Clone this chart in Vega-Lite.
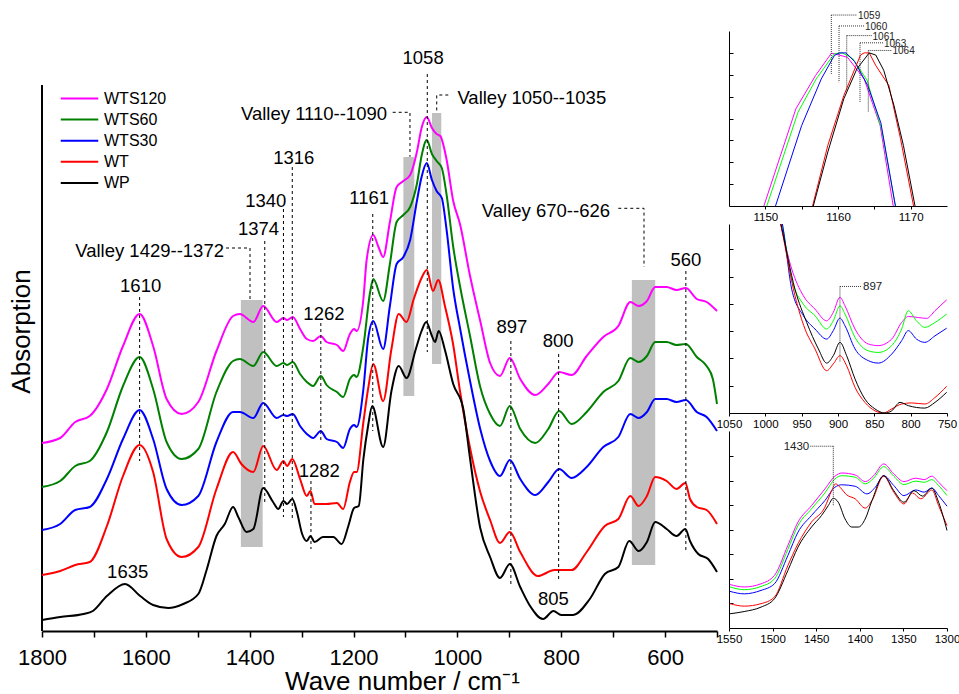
{
"$schema": "https://vega.github.io/schema/vega-lite/v6.json",
"padding": {"left": 8, "top": 11, "right": 0, "bottom": 0},
"background": "white",
"config": {"font": "Liberation Sans", "view": {"stroke": null}, "axis": {"grid": false, "domainColor": "black", "tickColor": "black", "labelColor": "black", "titleColor": "black", "titleFontWeight": "normal", "labelFlush": false, "labelOverlap": false}},
"datasets": {
"m": [
{"s":"WTS120","wn":1800,"a":188},{"s":"WTS120","wn":1765,"a":193},{"s":"WTS120","wn":1736,"a":209},{"s":"WTS120","wn":1708,"a":215},{"s":"WTS120","wn":1675,"a":242},{"s":"WTS120","wn":1644,"a":285},{"s":"WTS120","wn":1612,"a":317},{"s":"WTS120","wn":1586,"a":285},{"s":"WTS120","wn":1560,"a":232},{"s":"WTS120","wn":1531,"a":217},{"s":"WTS120","wn":1499,"a":229},{"s":"WTS120","wn":1464,"a":280},{"s":"WTS120","wn":1432,"a":315},{"s":"WTS120","wn":1419,"a":317},{"s":"WTS120","wn":1393,"a":309},{"s":"WTS120","wn":1374,"a":325},{"s":"WTS120","wn":1348,"a":309},{"s":"WTS120","wn":1335,"a":313},{"s":"WTS120","wn":1328,"a":311},{"s":"WTS120","wn":1317,"a":314},{"s":"WTS120","wn":1303,"a":302},{"s":"WTS120","wn":1290,"a":292},{"s":"WTS120","wn":1278,"a":290},{"s":"WTS120","wn":1263,"a":295},{"s":"WTS120","wn":1252,"a":289},{"s":"WTS120","wn":1232,"a":286},{"s":"WTS120","wn":1220,"a":280},{"s":"WTS120","wn":1207,"a":297},{"s":"WTS120","wn":1199,"a":302},{"s":"WTS120","wn":1194,"a":300},{"s":"WTS120","wn":1181,"a":332},{"s":"WTS120","wn":1175,"a":370},{"s":"WTS120","wn":1162,"a":396},{"s":"WTS120","wn":1152,"a":384},{"s":"WTS120","wn":1143,"a":374},{"s":"WTS120","wn":1130,"a":409},{"s":"WTS120","wn":1117,"a":444},{"s":"WTS120","wn":1104,"a":450},{"s":"WTS120","wn":1091,"a":456},{"s":"WTS120","wn":1078,"a":479},{"s":"WTS120","wn":1069,"a":503},{"s":"WTS120","wn":1059,"a":514},{"s":"WTS120","wn":1049,"a":503},{"s":"WTS120","wn":1040,"a":497},{"s":"WTS120","wn":1033,"a":495},{"s":"WTS120","wn":1021,"a":472},{"s":"WTS120","wn":1008,"a":430},{"s":"WTS120","wn":995,"a":407},{"s":"WTS120","wn":976,"a":356},{"s":"WTS120","wn":956,"a":310},{"s":"WTS120","wn":937,"a":268},{"s":"WTS120","wn":918,"a":255},{"s":"WTS120","wn":899,"a":273},{"s":"WTS120","wn":879,"a":252},{"s":"WTS120","wn":850,"a":236},{"s":"WTS120","wn":825,"a":247},{"s":"WTS120","wn":804,"a":259},{"s":"WTS120","wn":780,"a":256},{"s":"WTS120","wn":751,"a":275},{"s":"WTS120","wn":719,"a":294},{"s":"WTS120","wn":690,"a":305},{"s":"WTS120","wn":667,"a":329},{"s":"WTS120","wn":651,"a":325},{"s":"WTS120","wn":635,"a":330},{"s":"WTS120","wn":619,"a":344},{"s":"WTS120","wn":597,"a":344},{"s":"WTS120","wn":578,"a":341},{"s":"WTS120","wn":560,"a":343},{"s":"WTS120","wn":539,"a":332},{"s":"WTS120","wn":520,"a":329},{"s":"WTS120","wn":500,"a":320},
{"s":"WTS60","wn":1800,"a":144},{"s":"WTS60","wn":1765,"a":150},{"s":"WTS60","wn":1736,"a":165},{"s":"WTS60","wn":1708,"a":170},{"s":"WTS60","wn":1675,"a":199},{"s":"WTS60","wn":1644,"a":245},{"s":"WTS60","wn":1612,"a":274},{"s":"WTS60","wn":1586,"a":242},{"s":"WTS60","wn":1560,"a":189},{"s":"WTS60","wn":1531,"a":172},{"s":"WTS60","wn":1499,"a":182},{"s":"WTS60","wn":1464,"a":239},{"s":"WTS60","wn":1432,"a":270},{"s":"WTS60","wn":1419,"a":272},{"s":"WTS60","wn":1393,"a":265},{"s":"WTS60","wn":1374,"a":279},{"s":"WTS60","wn":1348,"a":265},{"s":"WTS60","wn":1335,"a":268},{"s":"WTS60","wn":1328,"a":266},{"s":"WTS60","wn":1317,"a":269},{"s":"WTS60","wn":1303,"a":257},{"s":"WTS60","wn":1290,"a":249},{"s":"WTS60","wn":1278,"a":245},{"s":"WTS60","wn":1263,"a":255},{"s":"WTS60","wn":1252,"a":246},{"s":"WTS60","wn":1232,"a":239},{"s":"WTS60","wn":1220,"a":234},{"s":"WTS60","wn":1207,"a":252},{"s":"WTS60","wn":1199,"a":256},{"s":"WTS60","wn":1194,"a":254},{"s":"WTS60","wn":1181,"a":285},{"s":"WTS60","wn":1168,"a":339},{"s":"WTS60","wn":1162,"a":352},{"s":"WTS60","wn":1143,"a":330},{"s":"WTS60","wn":1130,"a":367},{"s":"WTS60","wn":1117,"a":409},{"s":"WTS60","wn":1104,"a":416},{"s":"WTS60","wn":1091,"a":424},{"s":"WTS60","wn":1078,"a":447},{"s":"WTS60","wn":1069,"a":475},{"s":"WTS60","wn":1059,"a":491},{"s":"WTS60","wn":1049,"a":477},{"s":"WTS60","wn":1040,"a":470},{"s":"WTS60","wn":1030,"a":463},{"s":"WTS60","wn":1021,"a":437},{"s":"WTS60","wn":1008,"a":384},{"s":"WTS60","wn":995,"a":345},{"s":"WTS60","wn":976,"a":296},{"s":"WTS60","wn":956,"a":244},{"s":"WTS60","wn":937,"a":217},{"s":"WTS60","wn":918,"a":205},{"s":"WTS60","wn":899,"a":225},{"s":"WTS60","wn":879,"a":202},{"s":"WTS60","wn":850,"a":188},{"s":"WTS60","wn":825,"a":202},{"s":"WTS60","wn":804,"a":220},{"s":"WTS60","wn":780,"a":207},{"s":"WTS60","wn":751,"a":219},{"s":"WTS60","wn":719,"a":239},{"s":"WTS60","wn":690,"a":250},{"s":"WTS60","wn":667,"a":273},{"s":"WTS60","wn":651,"a":269},{"s":"WTS60","wn":635,"a":275},{"s":"WTS60","wn":619,"a":289},{"s":"WTS60","wn":597,"a":289},{"s":"WTS60","wn":578,"a":286},{"s":"WTS60","wn":560,"a":287},{"s":"WTS60","wn":539,"a":274},{"s":"WTS60","wn":520,"a":265},{"s":"WTS60","wn":508,"a":252},{"s":"WTS60","wn":500,"a":227},
{"s":"WTS30","wn":1800,"a":101},{"s":"WTS30","wn":1765,"a":107},{"s":"WTS30","wn":1736,"a":121},{"s":"WTS30","wn":1708,"a":124},{"s":"WTS30","wn":1675,"a":152},{"s":"WTS30","wn":1644,"a":192},{"s":"WTS30","wn":1612,"a":221},{"s":"WTS30","wn":1586,"a":192},{"s":"WTS30","wn":1560,"a":142},{"s":"WTS30","wn":1531,"a":126},{"s":"WTS30","wn":1499,"a":135},{"s":"WTS30","wn":1464,"a":189},{"s":"WTS30","wn":1432,"a":219},{"s":"WTS30","wn":1419,"a":219},{"s":"WTS30","wn":1393,"a":213},{"s":"WTS30","wn":1374,"a":228},{"s":"WTS30","wn":1348,"a":213},{"s":"WTS30","wn":1335,"a":216},{"s":"WTS30","wn":1328,"a":215},{"s":"WTS30","wn":1317,"a":217},{"s":"WTS30","wn":1303,"a":205},{"s":"WTS30","wn":1290,"a":197},{"s":"WTS30","wn":1278,"a":193},{"s":"WTS30","wn":1263,"a":200},{"s":"WTS30","wn":1252,"a":192},{"s":"WTS30","wn":1232,"a":189},{"s":"WTS30","wn":1220,"a":183},{"s":"WTS30","wn":1207,"a":202},{"s":"WTS30","wn":1199,"a":206},{"s":"WTS30","wn":1194,"a":204},{"s":"WTS30","wn":1181,"a":242},{"s":"WTS30","wn":1172,"a":292},{"s":"WTS30","wn":1162,"a":310},{"s":"WTS30","wn":1143,"a":282},{"s":"WTS30","wn":1130,"a":325},{"s":"WTS30","wn":1117,"a":367},{"s":"WTS30","wn":1104,"a":374},{"s":"WTS30","wn":1091,"a":391},{"s":"WTS30","wn":1078,"a":430},{"s":"WTS30","wn":1069,"a":454},{"s":"WTS30","wn":1059,"a":468},{"s":"WTS30","wn":1049,"a":451},{"s":"WTS30","wn":1040,"a":440},{"s":"WTS30","wn":1030,"a":433},{"s":"WTS30","wn":1021,"a":402},{"s":"WTS30","wn":1008,"a":342},{"s":"WTS30","wn":995,"a":303},{"s":"WTS30","wn":976,"a":251},{"s":"WTS30","wn":956,"a":202},{"s":"WTS30","wn":937,"a":170},{"s":"WTS30","wn":918,"a":155},{"s":"WTS30","wn":899,"a":171},{"s":"WTS30","wn":879,"a":152},{"s":"WTS30","wn":850,"a":136},{"s":"WTS30","wn":825,"a":149},{"s":"WTS30","wn":804,"a":162},{"s":"WTS30","wn":780,"a":153},{"s":"WTS30","wn":751,"a":164},{"s":"WTS30","wn":719,"a":184},{"s":"WTS30","wn":690,"a":194},{"s":"WTS30","wn":667,"a":217},{"s":"WTS30","wn":651,"a":213},{"s":"WTS30","wn":635,"a":219},{"s":"WTS30","wn":619,"a":232},{"s":"WTS30","wn":597,"a":232},{"s":"WTS30","wn":578,"a":229},{"s":"WTS30","wn":560,"a":231},{"s":"WTS30","wn":539,"a":219},{"s":"WTS30","wn":520,"a":214},{"s":"WTS30","wn":500,"a":200},
{"s":"WT","wn":1800,"a":56},{"s":"WT","wn":1765,"a":60},{"s":"WT","wn":1736,"a":66},{"s":"WT","wn":1708,"a":69},{"s":"WT","wn":1675,"a":105},{"s":"WT","wn":1644,"a":155},{"s":"WT","wn":1612,"a":186},{"s":"WT","wn":1586,"a":159},{"s":"WT","wn":1560,"a":92},{"s":"WT","wn":1531,"a":74},{"s":"WT","wn":1499,"a":84},{"s":"WT","wn":1464,"a":142},{"s":"WT","wn":1432,"a":179},{"s":"WT","wn":1416,"a":167},{"s":"WT","wn":1393,"a":159},{"s":"WT","wn":1374,"a":185},{"s":"WT","wn":1348,"a":161},{"s":"WT","wn":1335,"a":170},{"s":"WT","wn":1328,"a":165},{"s":"WT","wn":1318,"a":172},{"s":"WT","wn":1303,"a":152},{"s":"WT","wn":1290,"a":135},{"s":"WT","wn":1283,"a":140},{"s":"WT","wn":1275,"a":127},{"s":"WT","wn":1252,"a":127},{"s":"WT","wn":1232,"a":128},{"s":"WT","wn":1220,"a":122},{"s":"WT","wn":1207,"a":149},{"s":"WT","wn":1199,"a":159},{"s":"WT","wn":1194,"a":159},{"s":"WT","wn":1181,"a":209},{"s":"WT","wn":1172,"a":242},{"s":"WT","wn":1162,"a":267},{"s":"WT","wn":1143,"a":230},{"s":"WT","wn":1127,"a":282},{"s":"WT","wn":1113,"a":317},{"s":"WT","wn":1098,"a":309},{"s":"WT","wn":1084,"a":332},{"s":"WT","wn":1069,"a":353},{"s":"WT","wn":1059,"a":361},{"s":"WT","wn":1047,"a":340},{"s":"WT","wn":1037,"a":351},{"s":"WT","wn":1024,"a":325},{"s":"WT","wn":1008,"a":286},{"s":"WT","wn":995,"a":240},{"s":"WT","wn":976,"a":184},{"s":"WT","wn":956,"a":139},{"s":"WT","wn":937,"a":111},{"s":"WT","wn":918,"a":88},{"s":"WT","wn":899,"a":99},{"s":"WT","wn":879,"a":79},{"s":"WT","wn":845,"a":55},{"s":"WT","wn":813,"a":61},{"s":"WT","wn":780,"a":61},{"s":"WT","wn":751,"a":79},{"s":"WT","wn":716,"a":105},{"s":"WT","wn":690,"a":112},{"s":"WT","wn":667,"a":135},{"s":"WT","wn":651,"a":125},{"s":"WT","wn":635,"a":135},{"s":"WT","wn":619,"a":154},{"s":"WT","wn":597,"a":150},{"s":"WT","wn":578,"a":142},{"s":"WT","wn":561,"a":148},{"s":"WT","wn":552,"a":132},{"s":"WT","wn":539,"a":124},{"s":"WT","wn":520,"a":121},{"s":"WT","wn":500,"a":107},
{"s":"WP","wn":1800,"a":11},{"s":"WP","wn":1765,"a":14},{"s":"WP","wn":1720,"a":17},{"s":"WP","wn":1702,"a":20},{"s":"WP","wn":1675,"a":35},{"s":"WP","wn":1640,"a":47},{"s":"WP","wn":1611,"a":35},{"s":"WP","wn":1586,"a":26},{"s":"WP","wn":1557,"a":23},{"s":"WP","wn":1528,"a":27},{"s":"WP","wn":1499,"a":37},{"s":"WP","wn":1483,"a":61},{"s":"WP","wn":1464,"a":95},{"s":"WP","wn":1448,"a":107},{"s":"WP","wn":1432,"a":124},{"s":"WP","wn":1422,"a":114},{"s":"WP","wn":1406,"a":99},{"s":"WP","wn":1393,"a":102},{"s":"WP","wn":1374,"a":143},{"s":"WP","wn":1355,"a":129},{"s":"WP","wn":1345,"a":122},{"s":"WP","wn":1335,"a":130},{"s":"WP","wn":1328,"a":127},{"s":"WP","wn":1318,"a":132},{"s":"WP","wn":1309,"a":119},{"s":"WP","wn":1299,"a":97},{"s":"WP","wn":1290,"a":90},{"s":"WP","wn":1283,"a":95},{"s":"WP","wn":1275,"a":89},{"s":"WP","wn":1259,"a":94},{"s":"WP","wn":1239,"a":94},{"s":"WP","wn":1223,"a":87},{"s":"WP","wn":1210,"a":105},{"s":"WP","wn":1199,"a":123},{"s":"WP","wn":1190,"a":125},{"s":"WP","wn":1181,"a":172},{"s":"WP","wn":1172,"a":205},{"s":"WP","wn":1164,"a":225},{"s":"WP","wn":1143,"a":184},{"s":"WP","wn":1127,"a":240},{"s":"WP","wn":1113,"a":265},{"s":"WP","wn":1098,"a":253},{"s":"WP","wn":1080,"a":282},{"s":"WP","wn":1069,"a":300},{"s":"WP","wn":1060,"a":309},{"s":"WP","wn":1049,"a":295},{"s":"WP","wn":1043,"a":289},{"s":"WP","wn":1036,"a":300},{"s":"WP","wn":1024,"a":281},{"s":"WP","wn":1008,"a":247},{"s":"WP","wn":989,"a":223},{"s":"WP","wn":976,"a":174},{"s":"WP","wn":956,"a":103},{"s":"WP","wn":937,"a":74},{"s":"WP","wn":918,"a":53},{"s":"WP","wn":899,"a":67},{"s":"WP","wn":879,"a":44},{"s":"WP","wn":860,"a":25},{"s":"WP","wn":835,"a":12},{"s":"WP","wn":815,"a":20},{"s":"WP","wn":800,"a":16},{"s":"WP","wn":777,"a":16},{"s":"WP","wn":745,"a":32},{"s":"WP","wn":716,"a":57},{"s":"WP","wn":690,"a":64},{"s":"WP","wn":669,"a":90},{"s":"WP","wn":651,"a":80},{"s":"WP","wn":635,"a":89},{"s":"WP","wn":619,"a":109},{"s":"WP","wn":597,"a":102},{"s":"WP","wn":578,"a":95},{"s":"WP","wn":561,"a":102},{"s":"WP","wn":552,"a":90},{"s":"WP","wn":536,"a":77},{"s":"WP","wn":517,"a":72},{"s":"WP","wn":500,"a":59}
],
"bars": [{"wn":1417,"wn2":1375,"a":84,"a2":331},{"wn":1104,"wn2":1083,"a":235,"a2":474},{"wn":1049,"wn2":1031,"a":267,"a2":518},{"wn":664,"wn2":619,"a":66,"a2":351}],
"yax": [{"wn":1800,"a":0,"a2":546}],
"vlines": [{"wn":1612,"a":334,"a2":170},{"wn":1371,"a":390,"a2":129},{"wn":1335,"a":422,"a2":114},{"wn":1318,"a":464,"a2":112},{"wn":1263,"a":308,"a2":190},{"wn":1282,"a":150,"a2":82},{"wn":1163,"a":417,"a2":200},{"wn":1058,"a":557,"a2":279},{"wn":897,"a":290,"a2":44},{"wn":805,"a":277,"a2":49},{"wn":560,"a":360,"a2":80}],
"paths": [{"id":"v1","o":1,"wn":1445.6,"a":383},{"id":"v1","o":2,"wn":1399.4,"a":383},{"id":"v1","o":3,"wn":1399.4,"a":331},{"id":"v2","o":1,"wn":1124.6,"a":518.7},{"id":"v2","o":2,"wn":1091.3,"a":518.7},{"id":"v2","o":3,"wn":1091.3,"a":474.3},{"id":"v3","o":1,"wn":1017.5,"a":536},{"id":"v3","o":2,"wn":1039.8,"a":536},{"id":"v3","o":3,"wn":1039.8,"a":518},{"id":"v4","o":1,"wn":690.1,"a":422.7},{"id":"v4","o":2,"wn":640.6,"a":422.7},{"id":"v4","o":3,"wn":640.6,"a":364}],
"lc": [{"t":"1610","wn":1610,"a":345},{"t":"1374","wn":1383,"a":402},{"t":"1340","wn":1369,"a":430},{"t":"1316","wn":1315,"a":473},{"t":"1262","wn":1257,"a":317},{"t":"1282","wn":1266,"a":160},{"t":"1161","wn":1170,"a":433},{"t":"1058","wn":1066,"a":573},{"t":"897","wn":895,"a":304},{"t":"800","wn":806,"a":290},{"t":"805","wn":815,"a":32},{"t":"560","wn":560,"a":371},{"t":"1635","wn":1635,"a":59}],
"lr": [{"t":"Valley 1429--1372","wn":1449.5,"a":380},{"t":"Valley 1110--1090","wn":1135.5,"a":517},{"t":"Valley 670--626","wn":706,"a":420}],
"ll": [{"t":"Valley 1050--1035","wn":1000,"a":533}],
"p1": [
{"s":"WTS120","x":1149.8,"v":0},{"s":"WTS120","x":1154.2,"v":4.44},{"s":"WTS120","x":1156.9,"v":5.96},{"s":"WTS120","x":1159.1,"v":6.99},{"s":"WTS120","x":1161.3,"v":6.8},{"s":"WTS120","x":1163.6,"v":5.81},{"s":"WTS120","x":1165.8,"v":3.68},{"s":"WTS120","x":1167.6,"v":0},
{"s":"WTS60","x":1150.2,"v":0},{"s":"WTS60","x":1154.5,"v":4.29},{"s":"WTS60","x":1157,"v":5.81},{"s":"WTS60","x":1159.5,"v":6.96},{"s":"WTS60","x":1160.6,"v":7},{"s":"WTS60","x":1162,"v":6.75},{"s":"WTS60","x":1164,"v":5.75},{"s":"WTS60","x":1166,"v":3.5},{"s":"WTS60","x":1167.9,"v":0},
{"s":"WTS30","x":1151.4,"v":0},{"s":"WTS30","x":1155,"v":3.68},{"s":"WTS30","x":1157.7,"v":5.81},{"s":"WTS30","x":1159.5,"v":6.88},{"s":"WTS30","x":1160.2,"v":7},{"s":"WTS30","x":1161.1,"v":7},{"s":"WTS30","x":1162.3,"v":6.6},{"s":"WTS30","x":1164.1,"v":5.5},{"s":"WTS30","x":1165.9,"v":3.8},{"s":"WTS30","x":1167.9,"v":0},
{"s":"WT","x":1156.5,"v":0},{"s":"WT","x":1158.6,"v":2.77},{"s":"WT","x":1160.8,"v":5.05},{"s":"WT","x":1163.1,"v":6.9},{"s":"WT","x":1163.6,"v":7},{"s":"WT","x":1164.3,"v":7},{"s":"WT","x":1165.2,"v":6.42},{"s":"WT","x":1167,"v":5.51},{"s":"WT","x":1168.6,"v":3.08},{"s":"WT","x":1170.4,"v":0},
{"s":"WP","x":1156.6,"v":0},{"s":"WP","x":1158.6,"v":2.47},{"s":"WP","x":1160.8,"v":4.9},{"s":"WP","x":1162.6,"v":6.27},{"s":"WP","x":1164.3,"v":7},{"s":"WP","x":1165.2,"v":6.9},{"s":"WP","x":1166.3,"v":6.2},{"s":"WP","x":1167.7,"v":4.6},{"s":"WP","x":1169,"v":2.77},{"s":"WP","x":1170.6,"v":0}
],
"p1a": [{"x":1159.08,"v":8.73,"v2":6.04,"xe":1162.57},{"x":1160.14,"v":8.23,"v2":5.66,"xe":1163.58},{"x":1161.2,"v":7.79,"v2":5.28,"xe":1164.64},{"x":1163.03,"v":7.46,"v2":4.75,"xe":1166.23},{"x":1164.17,"v":7.11,"v2":4.32,"xe":1167.39}],
"p1t": [{"t":"1059","x":1162.75,"v":8.73},{"t":"1060","x":1163.71,"v":8.23},{"t":"1061","x":1164.75,"v":7.79},{"t":"1063","x":1166.33,"v":7.46},{"t":"1064","x":1167.5,"v":7.11}],
"p2": [
{"s":"WTS120","x":995,"v":9},{"s":"WTS120","x":979.8,"v":7.05},{"s":"WTS120","x":963.7,"v":5.28},{"s":"WTS120","x":947.7,"v":4.3},{"s":"WTS120","x":931.7,"v":3.81},{"s":"WTS120","x":915.6,"v":3.38},{"s":"WTS120","x":906.5,"v":3.69},{"s":"WTS120","x":897.3,"v":4.24},{"s":"WTS120","x":890.4,"v":3.93},{"s":"WTS120","x":876.6,"v":3.08},{"s":"WTS120","x":858.3,"v":2.53},{"s":"WTS120","x":844.5,"v":2.47},{"s":"WTS120","x":826.1,"v":2.71},{"s":"WTS120","x":812.4,"v":3.32},{"s":"WTS120","x":803.3,"v":3.54},{"s":"WTS120","x":789.5,"v":3.5},{"s":"WTS120","x":778,"v":3.47},{"s":"WTS120","x":766.5,"v":3.75},{"s":"WTS120","x":750.4,"v":4.15},
{"s":"WTS60","x":995,"v":9},{"s":"WTS60","x":977.5,"v":7.05},{"s":"WTS60","x":963.7,"v":4.91},{"s":"WTS60","x":947.7,"v":3.99},{"s":"WTS60","x":931.7,"v":3.57},{"s":"WTS60","x":915.6,"v":3.08},{"s":"WTS60","x":906.5,"v":3.38},{"s":"WTS60","x":897.3,"v":3.93},{"s":"WTS60","x":890.4,"v":3.63},{"s":"WTS60","x":876.6,"v":2.77},{"s":"WTS60","x":858.3,"v":2.28},{"s":"WTS60","x":844.5,"v":2.22},{"s":"WTS60","x":826.1,"v":2.47},{"s":"WTS60","x":812.4,"v":3.08},{"s":"WTS60","x":803.3,"v":3.75},{"s":"WTS60","x":792,"v":3.38},{"s":"WTS60","x":780.5,"v":3.14},{"s":"WTS60","x":766.5,"v":3.32},{"s":"WTS60","x":750.4,"v":3.63},
{"s":"WTS30","x":995,"v":9},{"s":"WTS30","x":975.3,"v":6.74},{"s":"WTS30","x":963.7,"v":4.54},{"s":"WTS30","x":947.7,"v":3.57},{"s":"WTS30","x":931.7,"v":3.08},{"s":"WTS30","x":915.6,"v":2.71},{"s":"WTS30","x":906.5,"v":3.02},{"s":"WTS30","x":897.3,"v":3.48},{"s":"WTS30","x":890.4,"v":3.2},{"s":"WTS30","x":876.6,"v":2.35},{"s":"WTS30","x":858.3,"v":1.92},{"s":"WTS30","x":844.5,"v":1.83},{"s":"WTS30","x":826.1,"v":2.16},{"s":"WTS30","x":812.4,"v":2.65},{"s":"WTS30","x":803.3,"v":3.02},{"s":"WTS30","x":792,"v":2.71},{"s":"WTS30","x":780.5,"v":2.59},{"s":"WTS30","x":766.5,"v":2.83},{"s":"WTS30","x":750.4,"v":3.11},
{"s":"WT","x":995,"v":9},{"s":"WT","x":977.5,"v":6.74},{"s":"WT","x":959.2,"v":4.3},{"s":"WT","x":945.4,"v":3.08},{"s":"WT","x":931.7,"v":2.35},{"s":"WT","x":915.6,"v":1.55},{"s":"WT","x":906.5,"v":1.8},{"s":"WT","x":897.3,"v":2.1},{"s":"WT","x":888.1,"v":1.73},{"s":"WT","x":876.6,"v":0.94},{"s":"WT","x":862.9,"v":0.39},{"s":"WT","x":849.2,"v":0.08},{"s":"WT","x":837.7,"v":0},{"s":"WT","x":826.1,"v":0.15},{"s":"WT","x":812.4,"v":0.33},{"s":"WT","x":798.6,"v":0.37},{"s":"WT","x":780.5,"v":0.33},{"s":"WT","x":766.5,"v":0.57},{"s":"WT","x":750.4,"v":0.98},
{"s":"WP","x":995,"v":9},{"s":"WP","x":977.5,"v":6.8},{"s":"WP","x":959.2,"v":4.54},{"s":"WP","x":943.1,"v":3.32},{"s":"WP","x":927,"v":2.35},{"s":"WP","x":915.6,"v":1.83},{"s":"WP","x":906.5,"v":2.1},{"s":"WP","x":897.3,"v":2.59},{"s":"WP","x":888.1,"v":2.1},{"s":"WP","x":876.6,"v":1.25},{"s":"WP","x":862.9,"v":0.51},{"s":"WP","x":849.2,"v":0.15},{"s":"WP","x":835.4,"v":0},{"s":"WP","x":826.1,"v":0.08},{"s":"WP","x":814.7,"v":0.39},{"s":"WP","x":803.3,"v":0.27},{"s":"WP","x":780.5,"v":0.18},{"s":"WP","x":766.5,"v":0.39},{"s":"WP","x":750.4,"v":0.76}
],
"p2a": [{"x":897.3,"v":4.64,"v2":1.86,"xe":867.4}],
"p2t": [{"t":"897","x":865.5,"v":4.64}],
"p3": [
{"s":"WTS120","x":1548.8,"v":1.77},{"s":"WTS120","x":1532.6,"v":1.67},{"s":"WTS120","x":1513.3,"v":1.8},{"s":"WTS120","x":1497.9,"v":2.14},{"s":"WTS120","x":1482.5,"v":3.36},{"s":"WTS120","x":1470.9,"v":4.31},{"s":"WTS120","x":1455.4,"v":4.98},{"s":"WTS120","x":1440,"v":5.66},{"s":"WTS120","x":1428.5,"v":6.18},{"s":"WTS120","x":1420.7,"v":6.31},{"s":"WTS120","x":1405.3,"v":6.23},{"s":"WTS120","x":1393.8,"v":5.96},{"s":"WTS120","x":1384.1,"v":6.2},{"s":"WTS120","x":1372.6,"v":6.68},{"s":"WTS120","x":1361,"v":6.27},{"s":"WTS120","x":1349.4,"v":5.96},{"s":"WTS120","x":1335.9,"v":6.1},{"s":"WTS120","x":1326.2,"v":6.04},{"s":"WTS120","x":1317.4,"v":6.18},{"s":"WTS120","x":1309.6,"v":5.93},{"s":"WTS120","x":1300,"v":5.59},
{"s":"WTS60","x":1548.8,"v":1.67},{"s":"WTS60","x":1532.6,"v":1.56},{"s":"WTS60","x":1513.3,"v":1.69},{"s":"WTS60","x":1497.9,"v":2.0},{"s":"WTS60","x":1482.5,"v":3.2},{"s":"WTS60","x":1470.9,"v":4.17},{"s":"WTS60","x":1455.4,"v":4.85},{"s":"WTS60","x":1440,"v":5.5},{"s":"WTS60","x":1428.5,"v":6.07},{"s":"WTS60","x":1420.7,"v":6.2},{"s":"WTS60","x":1405.3,"v":6.14},{"s":"WTS60","x":1393.8,"v":5.87},{"s":"WTS60","x":1384.1,"v":6.1},{"s":"WTS60","x":1372.6,"v":6.57},{"s":"WTS60","x":1361,"v":6.18},{"s":"WTS60","x":1349.4,"v":5.84},{"s":"WTS60","x":1335.9,"v":5.98},{"s":"WTS60","x":1326.2,"v":5.93},{"s":"WTS60","x":1317.4,"v":6.04},{"s":"WTS60","x":1309.6,"v":5.8},{"s":"WTS60","x":1300,"v":5.39},
{"s":"WTS30","x":1548.8,"v":1.49},{"s":"WTS30","x":1532.6,"v":1.39},{"s":"WTS30","x":1513.3,"v":1.53},{"s":"WTS30","x":1497.9,"v":1.8},{"s":"WTS30","x":1482.5,"v":2.95},{"s":"WTS30","x":1470.9,"v":3.9},{"s":"WTS30","x":1455.4,"v":4.58},{"s":"WTS30","x":1440,"v":5.19},{"s":"WTS30","x":1428.5,"v":5.73},{"s":"WTS30","x":1420.7,"v":5.83},{"s":"WTS30","x":1405.3,"v":5.77},{"s":"WTS30","x":1391.8,"v":5.46},{"s":"WTS30","x":1382.2,"v":5.73},{"s":"WTS30","x":1372.6,"v":6.2},{"s":"WTS30","x":1361,"v":5.8},{"s":"WTS30","x":1349.4,"v":5.39},{"s":"WTS30","x":1335.9,"v":5.62},{"s":"WTS30","x":1326.2,"v":5.53},{"s":"WTS30","x":1317.4,"v":5.7},{"s":"WTS30","x":1309.6,"v":5.39},{"s":"WTS30","x":1300,"v":4.96},
{"s":"WT","x":1548.8,"v":0.99},{"s":"WT","x":1532.6,"v":0.89},{"s":"WT","x":1513.3,"v":0.99},{"s":"WT","x":1497.9,"v":1.26},{"s":"WT","x":1482.5,"v":2.54},{"s":"WT","x":1470.9,"v":3.43},{"s":"WT","x":1455.4,"v":4.31},{"s":"WT","x":1440,"v":4.92},{"s":"WT","x":1432.3,"v":5.59},{"s":"WT","x":1427.7,"v":5.87},{"s":"WT","x":1422.7,"v":5.73},{"s":"WT","x":1415,"v":5.42},{"s":"WT","x":1405.3,"v":5.26},{"s":"WT","x":1393.8,"v":4.88},{"s":"WT","x":1386,"v":5.19},{"s":"WT","x":1372.6,"v":6.18},{"s":"WT","x":1361,"v":5.53},{"s":"WT","x":1349.4,"v":5.05},{"s":"WT","x":1339.7,"v":5.5},{"s":"WT","x":1330.1,"v":5.26},{"s":"WT","x":1317.4,"v":5.62},{"s":"WT","x":1309.6,"v":4.98},{"s":"WT","x":1300,"v":4.17},
{"s":"WP","x":1548.8,"v":0.58},{"s":"WP","x":1532.6,"v":0.67},{"s":"WP","x":1513.3,"v":0.85},{"s":"WP","x":1497.9,"v":1.19},{"s":"WP","x":1482.5,"v":2.34},{"s":"WP","x":1470.9,"v":3.29},{"s":"WP","x":1455.4,"v":4.11},{"s":"WP","x":1443.9,"v":4.58},{"s":"WP","x":1436.2,"v":4.98},{"s":"WP","x":1430.4,"v":5.28},{"s":"WP","x":1424.7,"v":5.12},{"s":"WP","x":1416.9,"v":4.44},{"s":"WP","x":1409.2,"v":4.11},{"s":"WP","x":1401.5,"v":4.11},{"s":"WP","x":1393.8,"v":4.44},{"s":"WP","x":1386,"v":5.19},{"s":"WP","x":1372.6,"v":6.2},{"s":"WP","x":1361,"v":5.59},{"s":"WP","x":1349.4,"v":5.12},{"s":"WP","x":1337.8,"v":5.59},{"s":"WP","x":1328.1,"v":5.37},{"s":"WP","x":1317.4,"v":5.69},{"s":"WP","x":1309.6,"v":5.12},{"s":"WP","x":1300,"v":3.97}
],
"p3a": [{"x":1430.4,"v":7.4,"v2":4.96,"xe":1457.1}],
"p3t": [{"t":"1430","x":1458,"v":7.4}]
},
"hconcat": [
{
"width": 675, "height": 600,
"encoding": {
 "x": {"field": "wn", "type": "quantitative", "scale": {"domain": [1800, 500], "nice": false, "zero": false},
  "axis": {"values": [1800,1700,1600,1500,1400,1300,1200,1100,1000,900,800,700,600,500], "format": "d", "labelExpr": "datum.value % 200 == 0 ? datum.label : ''", "labelFontSize": 22, "tickSize": 6, "tickWidth": 1.5, "domainWidth": 2, "labelPadding": 10, "title": "Wave number / cm⁻¹", "titleFontSize": 26, "titlePadding": 0, "titleX": 360}},
 "y": {"field": "a", "type": "quantitative", "scale": {"domain": [0, 600], "nice": false, "zero": false},
  "axis": {"title": "Absorption", "titleFontSize": 26, "domain": false, "ticks": false, "labels": false, "titlePadding": 8}}
},
"layer": [
{"data": {"name": "bars"}, "mark": {"type": "rect", "color": "#c0c0c0"}, "encoding": {"x2": {"field": "wn2"}, "y2": {"field": "a2"}}},
{"data": {"name": "yax"}, "mark": {"type": "rule", "color": "black", "strokeWidth": 2}, "encoding": {"y2": {"field": "a2"}}},
{"data": {"name": "m"}, "mark": {"type": "line", "interpolate": "monotone", "strokeWidth": 2},
 "encoding": {
  "color": {"field": "s", "type": "nominal",
   "scale": {"domain": ["WTS120","WTS60","WTS30","WT","WP"], "range": ["#ff00ff","#008000","#0000ff","#ff0000","#000000"]},
   "legend": {"orient": "none", "legendX": 29, "legendY": 59, "title": null, "symbolType": "M-2.5,0H2.5", "symbolSize": 225, "symbolStrokeWidth": 2, "labelFontSize": 16, "labelOffset": 16, "rowPadding": 4.1, "padding": 0, "labelColor": "black"}}
 }},
{"data": {"name": "vlines"}, "mark": {"type": "rule", "color": "black", "strokeWidth": 1, "strokeDash": [3, 3]}, "encoding": {"y2": {"field": "a2"}}},
{"data": {"name": "paths"}, "mark": {"type": "line", "color": "black", "strokeWidth": 1, "strokeDash": [3, 3]}, "encoding": {"detail": {"field": "id"}, "order": {"field": "o"}}},
{"data": {"name": "lc"}, "mark": {"type": "text", "fontSize": 18.5, "align": "center", "baseline": "middle", "color": "black"}, "encoding": {"text": {"field": "t"}}},
{"data": {"name": "lr"}, "mark": {"type": "text", "fontSize": 18.5, "align": "right", "baseline": "middle", "color": "black"}, "encoding": {"text": {"field": "t"}}},
{"data": {"name": "ll"}, "mark": {"type": "text", "fontSize": 18.5, "align": "left", "baseline": "middle", "color": "black"}, "encoding": {"text": {"field": "t"}}}
]
},
{
"vconcat": [
{
"width": 218, "height": 175,
"encoding": {
 "x": {"field": "x", "type": "quantitative", "scale": {"domain": [1145, 1175], "nice": false, "zero": false},
  "axis": {"values": [1150, 1155, 1160, 1165, 1170], "format": "d", "labelExpr": "datum.value % 10 == 0 ? datum.label : ''", "labelFontSize": 11.5, "tickSize": 3, "labelPadding": 2, "domainWidth": 1, "title": null}},
 "y": {"field": "v", "type": "quantitative", "scale": {"domain": [0, 8], "nice": false, "zero": false},
  "axis": {"values": [1,2,3,4,5,6,7], "labels": false, "tickSize": -4, "domainWidth": 1, "title": null}}
},
"layer": [
{"data": {"name": "p1"}, "mark": {"type": "line", "strokeWidth": 1},
 "encoding": {"color": {"field": "s", "type": "nominal", "scale": {"domain": ["WTS120","WTS60","WTS30","WT","WP"], "range": ["#ff00ff","#00ff00","#0000ff","#ff0000","#000000"]}, "legend": null}}},
{"data": {"name": "p1a"}, "mark": {"type": "rule", "color": "#333", "strokeWidth": 1, "strokeDash": [1, 1]}, "encoding": {"y2": {"field": "v2"}}},
{"data": {"name": "p1a"}, "mark": {"type": "rule", "color": "#333", "strokeWidth": 1, "strokeDash": [1, 1]}, "encoding": {"x2": {"field": "xe"}}},
{"data": {"name": "p1t"}, "mark": {"type": "text", "fontSize": 10, "align": "left", "baseline": "middle", "dy": 1, "color": "#222"}, "encoding": {"text": {"field": "t"}}}
]
},
{
"width": 218, "height": 189,
"encoding": {
 "x": {"field": "x", "type": "quantitative", "scale": {"domain": [1050, 750], "nice": false, "zero": false},
  "axis": {"values": [1050, 1000, 950, 900, 850, 800, 750], "format": "d", "labelFontSize": 11.5, "tickSize": 3, "labelPadding": 2, "domainWidth": 1, "title": null}},
 "y": {"field": "v", "type": "quantitative", "scale": {"domain": [0, 6.93], "nice": false, "zero": false},
  "axis": {"values": [1,2,3,4,5,6], "labels": false, "tickSize": -4, "domainWidth": 1, "title": null}}
},
"layer": [
{"data": {"name": "p2"}, "mark": {"type": "line", "strokeWidth": 1, "interpolate": "monotone", "clip": true},
 "encoding": {"color": {"field": "s", "type": "nominal", "scale": {"domain": ["WTS120","WTS60","WTS30","WT","WP"], "range": ["#ff00ff","#00ff00","#0000ff","#ff0000","#000000"]}, "legend": null}}},
{"data": {"name": "p2a"}, "mark": {"type": "rule", "color": "#333", "strokeWidth": 1, "strokeDash": [1, 1]}, "encoding": {"y2": {"field": "v2"}}},
{"data": {"name": "p2a"}, "mark": {"type": "rule", "color": "#333", "strokeWidth": 1, "strokeDash": [1, 1]}, "encoding": {"x2": {"field": "xe"}}},
{"data": {"name": "p2t"}, "mark": {"type": "text", "fontSize": 11.5, "align": "left", "baseline": "middle", "dy": 1, "color": "#222"}, "encoding": {"text": {"field": "t"}}}
]
},
{
"width": 218, "height": 197,
"encoding": {
 "x": {"field": "x", "type": "quantitative", "scale": {"domain": [1550, 1300], "nice": false, "zero": false},
  "axis": {"values": [1550, 1500, 1450, 1400, 1350, 1300], "format": "d", "labelFontSize": 11.5, "tickSize": 3, "labelPadding": 2, "domainWidth": 1, "title": null}},
 "y": {"field": "v", "type": "quantitative", "scale": {"domain": [0, 8.02], "nice": false, "zero": false},
  "axis": {"values": [1,2,3,4,5,6,7], "labels": false, "tickSize": -4, "domainWidth": 1, "title": null}}
},
"layer": [
{"data": {"name": "p3"}, "mark": {"type": "line", "strokeWidth": 1, "interpolate": "monotone"},
 "encoding": {"color": {"field": "s", "type": "nominal", "scale": {"domain": ["WTS120","WTS60","WTS30","WT","WP"], "range": ["#ff00ff","#00ff00","#0000ff","#ff0000","#000000"]}, "legend": null}}},
{"data": {"name": "p3a"}, "mark": {"type": "rule", "color": "#333", "strokeWidth": 1, "strokeDash": [1, 1]}, "encoding": {"y2": {"field": "v2"}}},
{"data": {"name": "p3a"}, "mark": {"type": "rule", "color": "#333", "strokeWidth": 1, "strokeDash": [1, 1]}, "encoding": {"x2": {"field": "xe"}}},
{"data": {"name": "p3t"}, "mark": {"type": "text", "fontSize": 11.5, "align": "right", "baseline": "middle", "dy": 1, "color": "#222"}, "encoding": {"text": {"field": "t"}}}
]
}
], "spacing": 18, "bounds": "flush"
}
],
"spacing": 12,
"bounds": "flush",
"resolve": {"scale": {"color": "independent"}}
}
